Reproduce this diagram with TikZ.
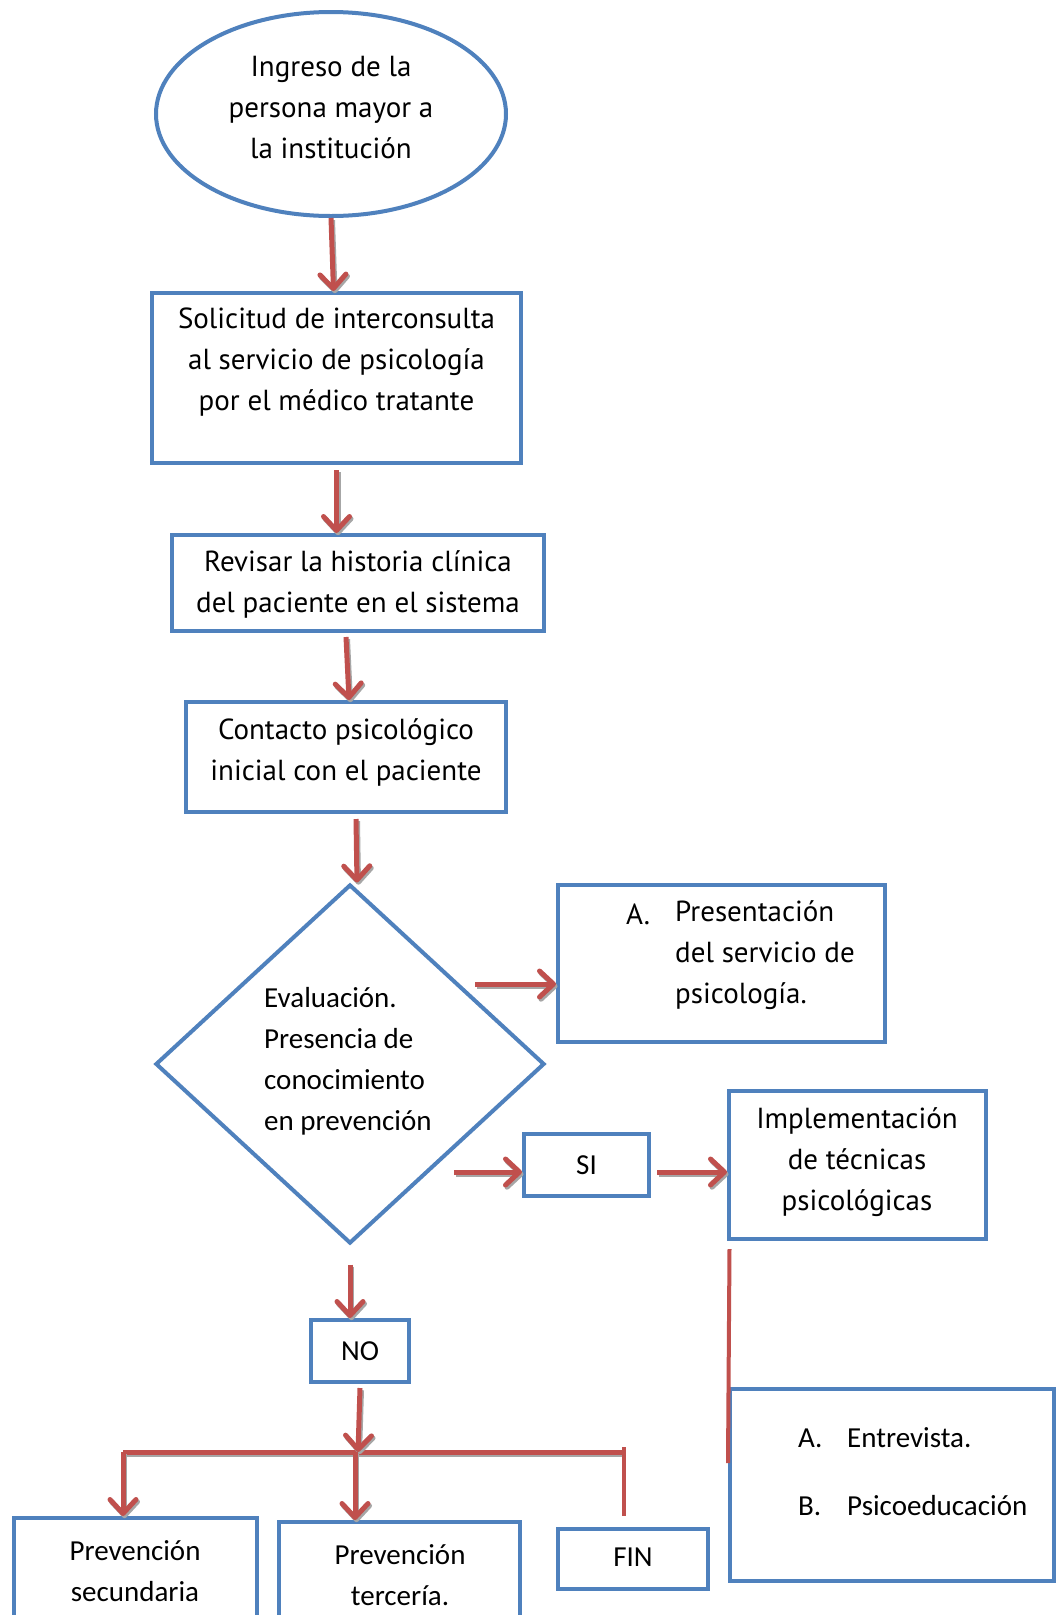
\documentclass[tikz,border=0pt]{standalone}
\usepackage{fontspec}
\setmainfont{Carlito}
\newfontfamily\twfont{PT Sans}
\usetikzlibrary{arrows.meta,shapes.geometric}
\definecolor{bblue}{HTML}{4F81BD}
\definecolor{rred}{HTML}{C0504D}
\definecolor{shgray}{HTML}{A6A6A6}
\tikzset{
  box/.style={draw=bblue, line width=4pt, rectangle, inner sep=0pt},
  txt/.style={inner sep=0pt, font=\fontsize{29}{41}\selectfont},
  twtxt/.style={inner sep=0pt, font=\twfont\fontsize{29}{41}\selectfont},
  arrbase/.style={line width=5pt, -{Straight Barb[length=14pt,width=26pt,round]}},
  arr/.style={arrbase, draw=rred},
  sharr/.style={arrbase, draw=shgray},
  rline/.style={draw=rred, line width=5pt},
  shline/.style={draw=shgray, line width=5pt},
  thinr/.style={draw=rred, line width=4pt},
}
\newcommand\shadowed[2]{%
  \begin{scope}[transform canvas={shift={(1.5pt,-2.2pt)}}]\draw[#1,draw=shgray] #2;\end{scope}%
  \draw[#1] #2;}
\begin{document}
\begin{tikzpicture}[x=1pt,y=-1pt]
\useasboundingbox[fill=white] (0,0) rectangle (1061,1615);
\clip (0,0) rectangle (1061,1615);

% shapes
\node[draw=bblue, line width=4pt, ellipse, minimum width=350, minimum height=204, inner sep=0pt] (ell) at (331,114) {};
\node[box, minimum width=369, minimum height=170] (b1) at (336.5,378) {};
\node[box, minimum width=372, minimum height=96] (b2) at (358,583) {};
\node[box, minimum width=320, minimum height=110] (b3) at (346,757) {};
\node[draw=bblue, line width=4pt, diamond, aspect=1.08, minimum width=389, minimum height=359, inner sep=0pt] (dia) at (350,1064) {};
\node[box, minimum width=327, minimum height=157] (bA) at (721.5,963.5) {};
\node[box, minimum width=125, minimum height=62] (si) at (586.5,1165) {};
\node[box, minimum width=257, minimum height=148] (impl) at (857.5,1165) {};
\node[box, minimum width=324, minimum height=192] (ent) at (892,1485) {};
\node[box, minimum width=98, minimum height=62] (no) at (360,1351) {};
\node[box, minimum width=243, minimum height=124] (p2) at (135.5,1580) {};
\node[box, minimum width=241, minimum height=124] (p3) at (399.5,1584) {};
\node[box, minimum width=150, minimum height=60] (fin) at (633,1559) {};

% texts
\node[twtxt, align=center] (tell) at (331,108) {Ingreso de la\\persona mayor a\\la institución};
\node[twtxt, align=center] (tb1) at (336.5,362) {Solicitud de interconsulta\\al servicio de psicología\\por el médico tratante};
\node[twtxt, align=center] (tb2) at (358,584) {Revisar la historia clínica\\del paciente en el sistema};
\node[twtxt, align=center] (tb3) at (346,752) {Contacto psicológico\\inicial con el paciente};
\node[txt, align=left, anchor=west] (tdia) at (264,1061) {Evaluación.\\Presencia de\\conocimiento\\en prevención};
\node[twtxt, anchor=west] (tAa) at (626,914) {A.};
\node[twtxt, align=left, anchor=west] (tA) at (675,955) {Presentación\\del servicio de\\psicología.};
\node[txt] (tsi) at (586.5,1165) {SI};
\node[twtxt, align=center] (timpl) at (857,1162) {Implementación\\de técnicas\\psicológicas};
\node[txt, anchor=west] (tea) at (798,1438) {A.};
\node[txt, anchor=west] (te1) at (847,1438) {Entrevista.};
\node[txt, anchor=west] (teb) at (798,1506) {B.};
\node[txt, anchor=west] (te2) at (847,1506) {Psicoeducación};
\node[txt] (tno) at (360,1351) {NO};
\node[txt, align=center] (tp2) at (135,1571) {Prevención\\secundaria};
\node[txt, align=center] (tp3) at (400,1575) {Prevención\\tercería.};
\node[txt] (tfin) at (633,1557) {FIN};

% connectors
\shadowed{arr}{(ell.south) -- ([xshift=-3pt]b1.north)}
\shadowed{arr}{([yshift=-5pt]b1.south) -- (b1.south |- b2.north)}
\shadowed{arr}{([yshift=-4pt]b2.south -| b3.north) -- ([xshift=3pt]b3.north)}
\shadowed{arr}{([xshift=10pt,yshift=-5pt]b3.south) -- ([xshift=7pt]dia.north)}
\coordinate (d1) at (475,984);
\shadowed{arr}{(d1) -- (d1 -| bA.west)}
\coordinate (d2) at (454,1172);
\shadowed{arr}{(d2) -- (d2 -| si.west)}
\shadowed{arr}{([xshift=6pt]si.east |- d2) -- (d2 -| impl.west)}
\draw[thinr] ([xshift=-128pt,yshift=-8pt]impl.south) -- ([xshift=-164pt,yshift=-76pt]ent.north);
\shadowed{arr}{([yshift=-19pt]dia.south) -- (dia.south |- no.north)}
\coordinate (j) at (358,1452);
\coordinate (jl) at (123,1452);
\coordinate (jm) at (355,1452);
\coordinate (jr) at (624,1452);
\shadowed{rline}{(jl) -- (jr)}
\shadowed{arr}{([yshift=-4pt]no.south) -- (j)}
\shadowed{arr}{(jl) -- (jl |- p2.north)}
\shadowed{arr}{(jm) -- (jm |- p3.north)}
\draw[thinr] ([yshift=5pt]jr) -- ([yshift=11pt]jr |- fin.north);
\end{tikzpicture}
\end{document}
